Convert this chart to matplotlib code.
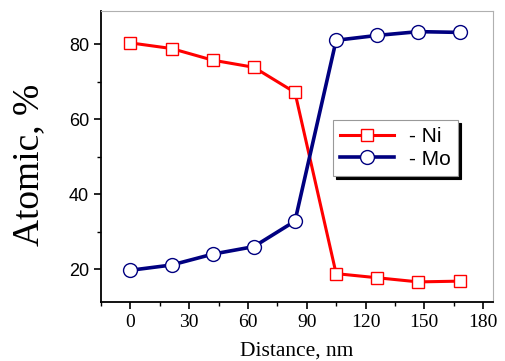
import matplotlib
matplotlib.use("Agg")
import matplotlib.pyplot as plt
from matplotlib.ticker import MultipleLocator

distance = [0, 21, 42, 63, 84, 105, 126, 147, 168]
ni = [80.3, 78.8, 75.7, 73.8, 67.1, 18.8, 17.7, 16.6, 16.8]
mo = [19.7, 21.1, 24.0, 26.0, 32.8, 81.0, 82.3, 83.3, 83.1]
x_ticks = [0, 30, 60, 90, 120, 150, 180]
y_ticks = [20, 40, 60, 80]

fig = plt.figure(figsize=(5.05, 3.61), dpi=100)
ax = fig.add_axes([0.2, 0.163, 0.776, 0.8065])

ax.plot(distance, ni, color='#ff0000', lw=2.2, marker='s', ms=9,
        mfc='white', mec='#ff0000', mew=1.0, label='- Ni', zorder=3)
ax.plot(distance, mo, color='#000080', lw=2.6, marker='o', ms=10,
        mfc='white', mec='#000080', mew=1.0, label='- Mo', zorder=3)

ax.set_xlim(-15, 185)
ax.set_ylim(11.2, 88.8)
ax.set_xticks(x_ticks)
ax.set_yticks(y_ticks)
ax.xaxis.set_minor_locator(MultipleLocator(15))
ax.yaxis.set_minor_locator(MultipleLocator(10))
ax.tick_params(which='major', direction='out', length=5, width=1.2, color='black')
ax.tick_params(which='minor', direction='out', length=3, width=1.0, color='black')
ax.tick_params(top=False, right=False, which='both')

for lab in ax.get_yticklabels():
    lab.set_family('Liberation Sans')
    lab.set_fontsize(13)
for lab in ax.get_xticklabels():
    lab.set_family('Liberation Serif')
    lab.set_fontsize(14)

ax.spines['left'].set_linewidth(1.3)
ax.spines['bottom'].set_linewidth(1.3)
for s in ('top', 'right'):
    ax.spines[s].set_color('#b0b0b0')
    ax.spines[s].set_linewidth(0.8)

ax.set_xlabel('Distance, nm', family='Liberation Serif', fontsize=15.5)
ax.set_ylabel('Atomic, %', family='Liberation Serif', fontsize=27)
ax.xaxis.set_label_coords(0.5, -0.135)
ax.yaxis.set_label_coords(-0.14, 0.47)

leg = ax.legend(loc='upper left', bbox_to_anchor=(0.592, 0.625), borderaxespad=0,
                fancybox=False, shadow={'color': 'black', 'alpha': 1},
                prop={'family': 'Liberation Sans', 'size': 15},
                handlelength=2.6, handletextpad=0.7, borderpad=0.35,
                labelspacing=0.15, framealpha=1)
leg.get_frame().set_edgecolor('#999999')
leg.get_frame().set_linewidth(0.8)

fig.savefig('out.png', dpi=100)
